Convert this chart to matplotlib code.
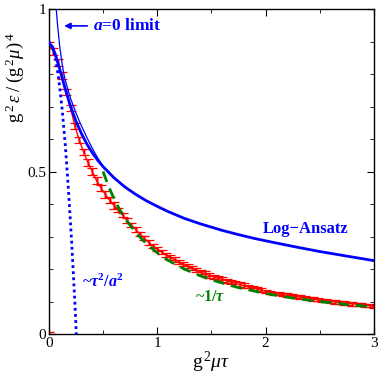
import matplotlib.pyplot as plt
from matplotlib.ticker import MultipleLocator

plt.rcParams['font.family'] = ['Liberation Serif', 'DejaVu Serif']
plt.rcParams['mathtext.fontset'] = 'custom'
plt.rcParams['mathtext.rm'] = 'Liberation Serif'
plt.rcParams['mathtext.it'] = 'Liberation Serif:italic'
plt.rcParams['mathtext.bf'] = 'Liberation Serif:bold'
plt.rcParams['mathtext.bfit'] = 'Liberation Serif:italic:bold'

# lattice data (red, with error bars)
tau = [0.00, 0.04, 0.08, 0.12, 0.16, 0.20, 0.24, 0.28, 0.32, 0.36, 0.40,
       0.44, 0.48, 0.52, 0.56, 0.60, 0.64, 0.68, 0.72, 0.76, 0.80,
       0.84, 0.88, 0.92, 0.96, 1.00, 1.04, 1.08, 1.12, 1.16, 1.20,
       1.24, 1.28, 1.32, 1.36, 1.40, 1.44, 1.48, 1.52, 1.56, 1.60,
       1.64, 1.68, 1.72, 1.76, 1.80, 1.84, 1.88, 1.92, 1.96, 2.00,
       2.04, 2.08, 2.12, 2.16, 2.20, 2.24, 2.28, 2.32, 2.36, 2.40,
       2.44, 2.48, 2.52, 2.56, 2.60, 2.64, 2.68, 2.72, 2.76, 2.80,
       2.84, 2.88, 2.92, 2.96, 3.00]
eps = [0.890, 0.870, 0.835, 0.795, 0.745, 0.695, 0.640, 0.597, 0.560, 0.528, 0.500,
       0.472, 0.450, 0.430, 0.412, 0.396, 0.382, 0.366, 0.350, 0.336, 0.322,
       0.308, 0.295, 0.282, 0.271, 0.262, 0.253, 0.244, 0.236, 0.229, 0.222,
       0.215, 0.209, 0.203, 0.197, 0.191, 0.186, 0.181, 0.176, 0.172, 0.168,
       0.164, 0.160, 0.156, 0.152, 0.149, 0.146, 0.142, 0.139, 0.136, 0.132,
       0.129, 0.126, 0.124, 0.122, 0.120, 0.118, 0.116, 0.114, 0.112, 0.110,
       0.108, 0.106, 0.104, 0.103, 0.101, 0.099, 0.098, 0.096, 0.095, 0.093,
       0.092, 0.090, 0.089, 0.088, 0.086]
eps_err = [0.010] * 16 + [0.007] * 30 + [0.005] * 30

# Log-Ansatz (thick blue)
log_x = [0.0, 0.03, 0.06, 0.10, 0.15, 0.20, 0.25, 0.30, 0.35, 0.40, 0.45, 0.50,
         0.60, 0.70, 0.80, 0.90, 1.0, 1.1, 1.25, 1.4, 1.5, 1.6, 1.75, 1.9,
         2.0, 2.25, 2.5, 2.75, 3.0]
log_y = [0.895, 0.885, 0.860, 0.815, 0.755, 0.700, 0.655, 0.617, 0.585, 0.558, 0.535, 0.515,
         0.481, 0.453, 0.430, 0.410, 0.393, 0.377, 0.356, 0.339, 0.329, 0.319, 0.306, 0.294,
         0.287, 0.270, 0.254, 0.240, 0.226]

# a=0 limit (thin blue)
a0_x = [0.068, 0.08, 0.10, 0.114, 0.13, 0.15, 0.20, 0.25, 0.29, 0.35, 0.40, 0.45, 0.50, 0.60]
a0_y = [1.0, 0.95, 0.885, 0.85, 0.815, 0.782, 0.725, 0.68, 0.648, 0.605, 0.572, 0.542, 0.517, 0.482]

# ~tau^2/a^2 (dotted blue)
sq_x = [0.0, 0.03, 0.06, 0.09, 0.12, 0.15, 0.18, 0.21, 0.24, 0.253]
sq_y = [0.90, 0.888, 0.85, 0.787, 0.70, 0.587, 0.447, 0.283, 0.095, 0.0]

# ~1/tau (green dashed)
inv_x = [0.5, 0.55, 0.6, 0.65, 0.7, 0.8, 0.9, 1.0, 1.1, 1.25, 1.4, 1.5, 1.75, 2.0,
         2.25, 2.5, 2.75, 3.0]
inv_y = [0.5, 0.455, 0.417, 0.385, 0.357, 0.3125, 0.278, 0.25, 0.227, 0.2, 0.179, 0.167,
         0.143, 0.125, 0.111, 0.1, 0.091, 0.083]

fig = plt.figure(figsize=(3.82, 3.75), dpi=100)
ax = fig.add_axes([0.128, 0.109, 0.851, 0.867])

ax.errorbar(tau, eps, yerr=eps_err, fmt='none', ecolor='#ff6060', elinewidth=2.2,
            capsize=0, alpha=0.6, zorder=1)
ax.plot(tau, eps, color='red', lw=1.0, zorder=2)
ax.errorbar(tau, eps, yerr=eps_err, fmt='none', ecolor='red', elinewidth=0.9,
            capsize=3.5, capthick=0.9, zorder=2)
ax.errorbar([0.0], [0.0], yerr=[0.005], fmt='none', ecolor='red', capsize=3.5, capthick=1.0)

ax.plot(log_x, log_y, color='blue', lw=2.0, zorder=3)
ax.plot(a0_x, a0_y, color='blue', lw=0.9, zorder=3)
ax.plot(sq_x, sq_y, color='blue', lw=2.0, linestyle=(0, (1, 1.2)), zorder=3)
ax.plot(inv_x, inv_y, color='green', lw=2.0, linestyle=(0, (4, 2.5)), zorder=4)

ax.annotate('', xy=(0.115, 0.948), xytext=(0.38, 0.948),
            arrowprops=dict(arrowstyle='-|>', color='blue', lw=1.2, mutation_scale=9))
ax.text(0.41, 0.948, r'$\mathbfit{a}$=0 limit', color='blue', fontsize=12.5,
        fontweight='bold', va='center', ha='left')
ax.text(2.37, 0.323, 'Log\u2212Ansatz', color='blue', fontsize=12,
        fontweight='bold', va='center', ha='center')
ax.text(0.31, 0.16, r'~$\mathbfit{\tau}^{\mathbf{2}}$/$\mathbfit{a}^{\mathbf{2}}$', color='blue',
        fontsize=11.5, fontweight='bold', va='center', ha='left')
ax.text(1.35, 0.113, r'~1/$\mathbfit{\tau}$', color='green', fontsize=11.5,
        fontweight='bold', va='center', ha='left')

ax.set_xlim(0, 3)
ax.set_ylim(0, 1)
ax.set_xticks([0, 1, 2, 3])
ax.set_yticks([0, 0.5, 1])
ax.set_yticklabels(['0', '0.5', '1'])
ax.xaxis.set_minor_locator(MultipleLocator(0.5))
ax.yaxis.set_minor_locator(MultipleLocator(0.1))
ax.tick_params(which='both', direction='in', top=True, right=True, labelsize=11, pad=2)
ax.tick_params(which='major', length=5)
ax.tick_params(which='minor', length=3)
for s in ax.spines.values():
    s.set_linewidth(1.0)

ax.set_xlabel(r'$\mathrm{g}^{\,2}\mu\tau$', fontsize=14, labelpad=0)
ax.set_ylabel(r'$\mathrm{g}^{\,2}\,\epsilon\;/\;(\mathrm{g}^{\,2}\mu)^{\,4}$', fontsize=13.5)
ax.yaxis.set_label_coords(-0.07, 0.79)

fig.savefig('out.png', dpi=100)
